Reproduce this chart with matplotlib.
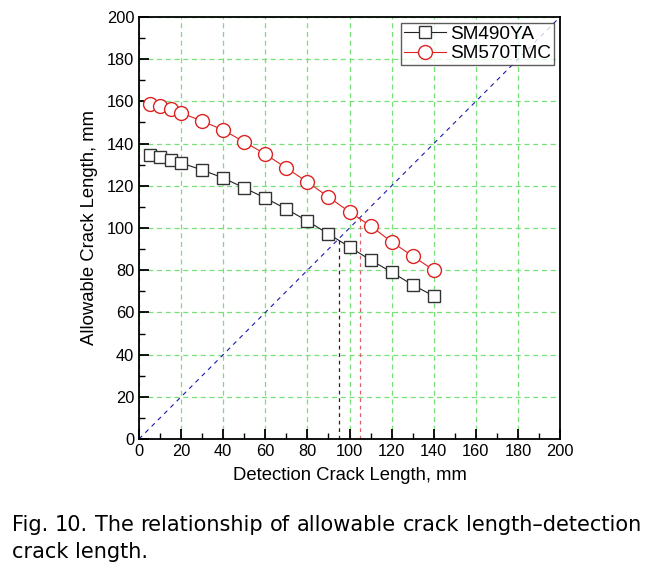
import matplotlib
matplotlib.use("Agg")
import matplotlib.pyplot as plt
from matplotlib.ticker import MultipleLocator

plt.rcParams['font.family'] = ['Liberation Sans', 'DejaVu Sans']

x = [5, 10, 15, 20, 30, 40, 50, 60, 70, 80, 90, 100, 110, 120, 130, 140]
sm490ya = [134.6, 133.6, 132.2, 130.8, 127.5, 123.7, 119.0, 114.2, 109.0, 103.3,
           97.2, 91.0, 84.8, 79.1, 73.0, 67.8]
sm570tmc = [158.8, 157.8, 156.4, 154.5, 150.7, 146.4, 140.8, 135.0, 128.4, 121.8,
            114.7, 107.6, 101.0, 93.4, 86.7, 80.0]
diag = [0, 200]
cross_490 = 95
cross_570 = 105
caption_line1 = 'Fig. 10. The relationship of allowable crack length\u2013detection'
caption_line2 = 'crack length.'

fig = plt.figure(figsize=(6.57, 5.72), dpi=100)
ax = fig.add_axes([0.2116, 0.2325, 0.6408, 0.7378])

ax.grid(True, which='major', color='#77e077', linestyle=(0, (4, 3)), linewidth=0.9)
ax.set_axisbelow(True)

ax.plot(diag, diag, color='#1a1aaa', linestyle=(0, (4, 4)), linewidth=0.8, zorder=2)
ax.plot([cross_490, cross_490], [0, cross_490], color='#222222', linestyle=(0, (3, 3)), linewidth=0.9, zorder=2)
ax.plot([cross_570, cross_570], [0, cross_570], color='#e06060', linestyle=(0, (3, 3)), linewidth=0.9, zorder=2)

ax.plot(x, sm490ya, color='#222222', linewidth=0.8, marker='s', markersize=9,
        markerfacecolor='white', markeredgecolor='#333333', markeredgewidth=1.0,
        label='SM490YA', zorder=3)
ax.plot(x, sm570tmc, color='#dd2222', linewidth=0.8, marker='o', markersize=10,
        markerfacecolor='white', markeredgecolor='#dd2222', markeredgewidth=1.0,
        label='SM570TMC', zorder=3)

ax.set_xlim(0, 200)
ax.set_ylim(0, 200)
ax.xaxis.set_major_locator(MultipleLocator(20))
ax.yaxis.set_major_locator(MultipleLocator(20))
ax.xaxis.set_minor_locator(MultipleLocator(10))
ax.yaxis.set_minor_locator(MultipleLocator(10))
ax.tick_params(which='major', direction='in', length=7, width=1.3, labelsize=11.8, top=False, right=False)
ax.tick_params(which='minor', direction='in', length=4, width=1.0, top=False, right=False)
for s in ax.spines.values():
    s.set_linewidth(1.3)

ax.set_xlabel('Detection Crack Length, mm', fontsize=13.3, labelpad=6)
ax.set_ylabel('Allowable Crack Length, mm', fontsize=13.3, labelpad=6)

leg = ax.legend(loc='upper right', fontsize=13.7, frameon=True, fancybox=False,
                edgecolor='#333333', borderpad=0.15, handlelength=2.2,
                handletextpad=0.25, labelspacing=0.12, borderaxespad=0.3)
leg.get_frame().set_linewidth(1.0)

# justified caption first line
renderer = fig.canvas.get_renderer()
fs = 15
cap_font = ['DejaVu Sans']
left_px, right_px = 12, 641
words = caption_line1.split(' ')
texts = [fig.text(0, 0.082, w, fontsize=fs, family=cap_font, ha='left', va='center') for w in words]
widths = [t.get_window_extent(renderer=renderer).width for t in texts]
gap = (right_px - left_px - sum(widths)) / (len(words) - 1)
pos = left_px
W = fig.get_figwidth() * fig.dpi
for t, w in zip(texts, widths):
    t.set_x(pos / W)
    pos += w + gap
fig.text(left_px / W, 0.035, caption_line2, fontsize=fs, family=cap_font, ha='left', va='center')

fig.savefig('out.png', dpi=100)
